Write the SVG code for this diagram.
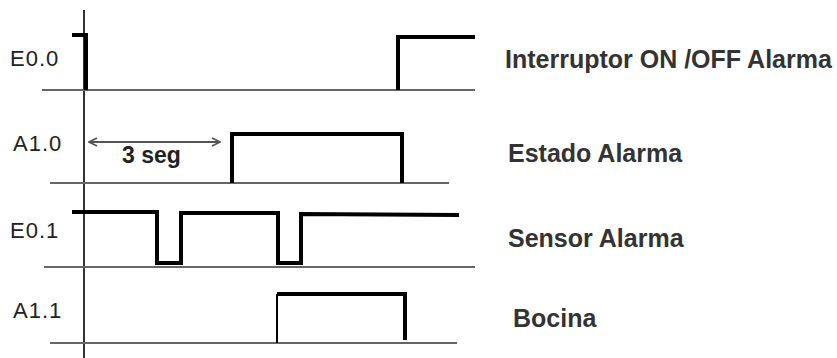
<svg xmlns="http://www.w3.org/2000/svg" width="837" height="358" viewBox="0 0 837 358">
<defs>
<style>
.base{stroke:#666;stroke-width:2;fill:none}
.axis{stroke:#333;stroke-width:2;fill:none}
.sig{stroke:#000;stroke-width:4;fill:none;stroke-linejoin:miter}
.lbl{font-family:"Liberation Sans",Arial,sans-serif;font-size:22px;fill:#222;letter-spacing:1px}
.name{font-family:"Liberation Sans",Arial,sans-serif;font-size:25px;font-weight:bold;fill:#333}
.dim{stroke:#555;stroke-width:2;fill:none}
</style>
<marker id="oa" viewBox="0 0 10 10" refX="9" refY="5" markerWidth="10" markerHeight="10" markerUnits="userSpaceOnUse" orient="auto-start-reverse">
<path d="M1,1 L9,5 L1,9" fill="none" stroke="#555" stroke-width="1.6"/>
</marker>
</defs>
<rect width="837" height="358" fill="#fff"/>
<g id="axis"><line class="axis" x1="84" y1="10" x2="84" y2="358"/></g>
<g id="row-E00">
<line class="base" x1="42" y1="90" x2="475" y2="90"/>
<text class="lbl" x="10" y="66">E0.0</text>
<text class="name" x="505" y="68">Interruptor ON /OFF Alarma</text>
</g>
<g id="row-A10">
<line class="base" x1="50" y1="183" x2="449" y2="183"/>
<text class="lbl" x="13" y="151">A1.0</text>
<text class="name" x="508" y="162">Estado Alarma</text>
</g>
<g id="row-E01">
<line class="base" x1="44" y1="267" x2="475" y2="267"/>
<text class="lbl" x="10" y="238">E0.1</text>
<text class="name" x="508" y="247">Sensor Alarma</text>
</g>
<g id="row-A11">
<line class="base" x1="50" y1="343" x2="457" y2="343"/>
<text class="lbl" x="13" y="318">A1.1</text>
<text class="name" x="513" y="327">Bocina</text>
</g>
<g id="connectors">
<polyline class="sig" points="72,35 86,35 86,90"/>
<polyline class="sig" points="398,90 398,37 475,37"/>
<polyline class="sig" points="232,183 232,134 402,134 402,183"/>
<polyline class="sig" points="72,212 157,212 157,263 181,263 181,213 278,213 278,263 301,263 301,214 459,215"/>
<polyline class="sig" points="405,340 405,294 277,294" />
<line x1="277" y1="294" x2="277" y2="343" stroke="#000" stroke-width="2"/>
<line class="dim" x1="89" y1="142" x2="220" y2="142" marker-start="url(#oa)" marker-end="url(#oa)"/>
<text x="122" y="163" font-family="Liberation Sans, Arial, sans-serif" font-size="23" font-weight="bold" fill="#222">3 seg</text>
</g>
</svg>
